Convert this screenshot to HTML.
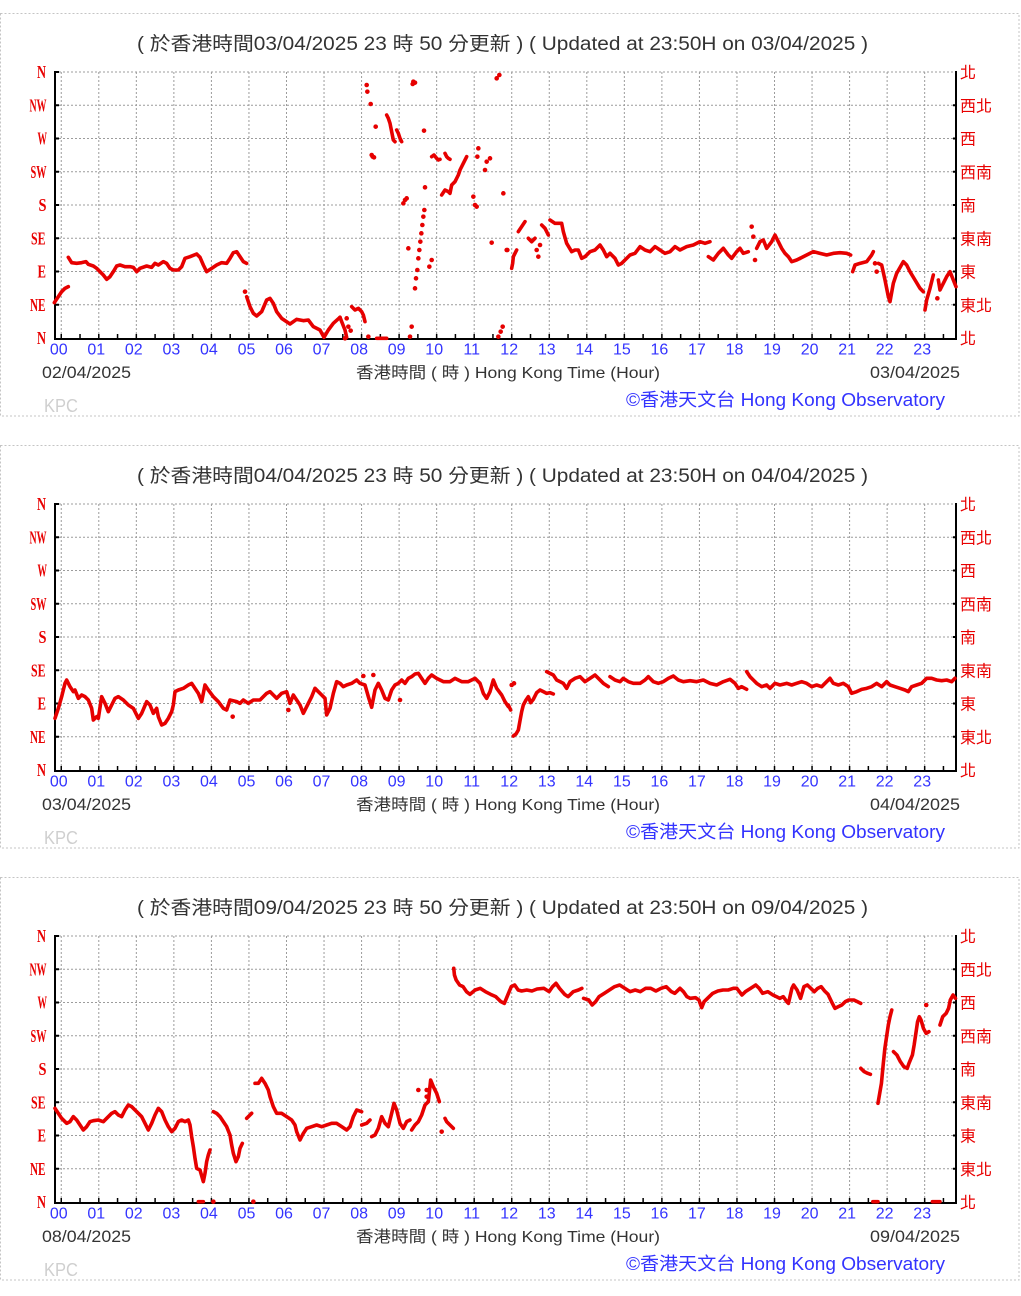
<!DOCTYPE html>
<html><head><meta charset="utf-8"><style>
body{margin:0;background:#fff}
svg{display:block}
.t{font-family:"Liberation Sans","Noto Sans CJK TC",sans-serif}
.lab{font-family:"Liberation Serif",serif;font-weight:bold;font-size:18px;fill:#e80000}
.rl{font-family:"Liberation Sans","Noto Sans CJK TC",sans-serif;font-size:16px;fill:#e80000}
.hr{font-family:"Liberation Sans",sans-serif;font-size:16px;fill:#3333ff;text-anchor:middle}
.s{fill:none;stroke:#e60000;stroke-width:3.6;stroke-linejoin:round;stroke-linecap:round;vector-effect:non-scaling-stroke}
.d{fill:none;stroke:#e60000;stroke-width:4.6;stroke-linecap:round;vector-effect:non-scaling-stroke}
</style></head><body>
<svg width="1021" height="1296" viewBox="0 0 1021 1296" xmlns="http://www.w3.org/2000/svg" xmlns:xlink="http://www.w3.org/1999/xlink">
<defs>
<g id="fr">
<rect x="0.5" y="13.5" width="1018.5" height="402.5" fill="none" stroke="#c4c4c4" stroke-dasharray="2 2"/>
<path fill="none" stroke="#9c9c9c" stroke-dasharray="2 2" d="M55 72H956M55 105.3H956M55 138.5H956M55 171.8H956M55 205H956M55 238.3H956M55 271.5H956M55 304.8H956"/>
<path fill="none" stroke="#9c9c9c" stroke-dasharray="2 2" d="M61.25 72V338M98.79 72V338M136.33 72V338M173.87 72V338M211.41 72V338M248.95 72V338M286.49 72V338M324.03 72V338M361.57 72V338M399.11 72V338M436.65 72V338M474.19 72V338M511.73 72V338M549.27 72V338M586.81 72V338M624.35 72V338M661.89 72V338M699.43 72V338M736.97 72V338M774.51 72V338M812.05 72V338M849.59 72V338M887.13 72V338M924.67 72V338"/>
<path fill="none" stroke="#000" stroke-width="2" d="M55 71V339H957M956 71V339"/>
<path fill="none" stroke="#000" stroke-width="2" d="M55 72h4M55 105.3h4M55 138.5h4M55 171.8h4M55 205h4M55 238.3h4M55 271.5h4M55 304.8h4M956 105.3h-3M956 138.5h-3M956 171.8h-3M956 205h-3M956 238.3h-3M956 271.5h-3M956 304.8h-3"/>
<path fill="none" stroke="#000" stroke-width="1.5" d="M61.25 338v-4M80.02 338v-4M98.79 338v-4M117.56 338v-4M136.33 338v-4M155.1 338v-4M173.87 338v-4M192.64 338v-4M211.41 338v-4M230.18 338v-4M248.95 338v-4M267.72 338v-4M286.49 338v-4M305.26 338v-4M324.03 338v-4M342.8 338v-4M361.57 338v-4M380.34 338v-4M399.11 338v-4M417.88 338v-4M436.65 338v-4M455.42 338v-4M474.19 338v-4M492.96 338v-4M511.73 338v-4M530.5 338v-4M549.27 338v-4M568.04 338v-4M586.81 338v-4M605.58 338v-4M624.35 338v-4M643.12 338v-4M661.89 338v-4M680.66 338v-4M699.43 338v-4M718.2 338v-4M736.97 338v-4M755.74 338v-4M774.51 338v-4M793.28 338v-4M812.05 338v-4M830.82 338v-4M849.59 338v-4M868.36 338v-4M887.13 338v-4M905.9 338v-4M924.67 338v-4M943.44 338v-4"/>
</g>
</defs>

<use xlink:href="#fr" href="#fr"/>
<use xlink:href="#fr" href="#fr" y="432"/>
<use xlink:href="#fr" href="#fr" y="864"/>

<!-- ================= PANEL 1 TEXT ================= -->
<g>
<text class="t" x="137" y="50" font-size="19" fill="#333" textLength="731" lengthAdjust="spacingAndGlyphs">( 於香港時間03/04/2025 23 時 50 分更新 ) ( Updated at 23:50H on 03/04/2025 )</text>
<text class="lab" x="37" y="78" textLength="9" lengthAdjust="spacingAndGlyphs">N</text>
<text class="lab" x="29.5" y="111.3" textLength="17" lengthAdjust="spacingAndGlyphs">NW</text>
<text class="lab" x="37.5" y="144.5" textLength="9.5" lengthAdjust="spacingAndGlyphs">W</text>
<text class="lab" x="30.5" y="177.8" textLength="16" lengthAdjust="spacingAndGlyphs">SW</text>
<text class="lab" x="38.5" y="211" textLength="8" lengthAdjust="spacingAndGlyphs">S</text>
<text class="lab" x="31" y="244.3" textLength="14.5" lengthAdjust="spacingAndGlyphs">SE</text>
<text class="lab" x="37.5" y="277.5" textLength="8.5" lengthAdjust="spacingAndGlyphs">E</text>
<text class="lab" x="30" y="310.8" textLength="15.5" lengthAdjust="spacingAndGlyphs">NE</text>
<text class="lab" x="37" y="344" textLength="9" lengthAdjust="spacingAndGlyphs">N</text>
<text class="rl" x="960" y="78">北</text>
<text class="rl" x="960" y="111.3">西北</text>
<text class="rl" x="960" y="144.5">西</text>
<text class="rl" x="960" y="177.8">西南</text>
<text class="rl" x="960" y="211">南</text>
<text class="rl" x="960" y="244.3">東南</text>
<text class="rl" x="960" y="277.5">東</text>
<text class="rl" x="960" y="310.8">東北</text>
<text class="rl" x="960" y="344">北</text>
<text class="hr" y="354.5"><tspan x="58.8">00</tspan><tspan x="96.3">01</tspan><tspan x="133.8">02</tspan><tspan x="171.4">03</tspan><tspan x="208.9">04</tspan><tspan x="246.5">05</tspan><tspan x="284">06</tspan><tspan x="321.5">07</tspan><tspan x="359.1">08</tspan><tspan x="396.6">09</tspan><tspan x="434.2">10</tspan><tspan x="471.7">11</tspan><tspan x="509.2">12</tspan><tspan x="546.8">13</tspan><tspan x="584.3">14</tspan><tspan x="621.9">15</tspan><tspan x="659.4">16</tspan><tspan x="696.9">17</tspan><tspan x="734.5">18</tspan><tspan x="772">19</tspan><tspan x="809.6">20</tspan><tspan x="847.1">21</tspan><tspan x="884.6">22</tspan><tspan x="922.2">23</tspan></text>
<text class="t" x="42" y="378" font-size="17" fill="#333" textLength="89" lengthAdjust="spacingAndGlyphs">02/04/2025</text>
<text class="t" x="356" y="378" font-size="16" fill="#333" textLength="304" lengthAdjust="spacingAndGlyphs">香港時間 ( 時 ) Hong Kong Time (Hour)</text>
<text class="t" x="870" y="378" font-size="17" fill="#333" textLength="90" lengthAdjust="spacingAndGlyphs">03/04/2025</text>
<text class="t" x="626" y="406" font-size="18" fill="#3333ff" textLength="319" lengthAdjust="spacingAndGlyphs">©香港天文台 Hong Kong Observatory</text>
<text class="t" x="44" y="412" font-size="18" fill="#cfcfcf" textLength="34" lengthAdjust="spacingAndGlyphs">KPC</text>
</g>

<!-- ================= PANEL 2 TEXT ================= -->
<g transform="translate(0 432)">
<text class="t" x="137" y="50" font-size="19" fill="#333" textLength="731" lengthAdjust="spacingAndGlyphs">( 於香港時間04/04/2025 23 時 50 分更新 ) ( Updated at 23:50H on 04/04/2025 )</text>
<text class="lab" x="37" y="78" textLength="9" lengthAdjust="spacingAndGlyphs">N</text>
<text class="lab" x="29.5" y="111.3" textLength="17" lengthAdjust="spacingAndGlyphs">NW</text>
<text class="lab" x="37.5" y="144.5" textLength="9.5" lengthAdjust="spacingAndGlyphs">W</text>
<text class="lab" x="30.5" y="177.8" textLength="16" lengthAdjust="spacingAndGlyphs">SW</text>
<text class="lab" x="38.5" y="211" textLength="8" lengthAdjust="spacingAndGlyphs">S</text>
<text class="lab" x="31" y="244.3" textLength="14.5" lengthAdjust="spacingAndGlyphs">SE</text>
<text class="lab" x="37.5" y="277.5" textLength="8.5" lengthAdjust="spacingAndGlyphs">E</text>
<text class="lab" x="30" y="310.8" textLength="15.5" lengthAdjust="spacingAndGlyphs">NE</text>
<text class="lab" x="37" y="344" textLength="9" lengthAdjust="spacingAndGlyphs">N</text>
<text class="rl" x="960" y="78">北</text>
<text class="rl" x="960" y="111.3">西北</text>
<text class="rl" x="960" y="144.5">西</text>
<text class="rl" x="960" y="177.8">西南</text>
<text class="rl" x="960" y="211">南</text>
<text class="rl" x="960" y="244.3">東南</text>
<text class="rl" x="960" y="277.5">東</text>
<text class="rl" x="960" y="310.8">東北</text>
<text class="rl" x="960" y="344">北</text>
<text class="hr" y="354.5"><tspan x="58.8">00</tspan><tspan x="96.3">01</tspan><tspan x="133.8">02</tspan><tspan x="171.4">03</tspan><tspan x="208.9">04</tspan><tspan x="246.5">05</tspan><tspan x="284">06</tspan><tspan x="321.5">07</tspan><tspan x="359.1">08</tspan><tspan x="396.6">09</tspan><tspan x="434.2">10</tspan><tspan x="471.7">11</tspan><tspan x="509.2">12</tspan><tspan x="546.8">13</tspan><tspan x="584.3">14</tspan><tspan x="621.9">15</tspan><tspan x="659.4">16</tspan><tspan x="696.9">17</tspan><tspan x="734.5">18</tspan><tspan x="772">19</tspan><tspan x="809.6">20</tspan><tspan x="847.1">21</tspan><tspan x="884.6">22</tspan><tspan x="922.2">23</tspan></text>
<text class="t" x="42" y="378" font-size="17" fill="#333" textLength="89" lengthAdjust="spacingAndGlyphs">03/04/2025</text>
<text class="t" x="356" y="378" font-size="16" fill="#333" textLength="304" lengthAdjust="spacingAndGlyphs">香港時間 ( 時 ) Hong Kong Time (Hour)</text>
<text class="t" x="870" y="378" font-size="17" fill="#333" textLength="90" lengthAdjust="spacingAndGlyphs">04/04/2025</text>
<text class="t" x="626" y="406" font-size="18" fill="#3333ff" textLength="319" lengthAdjust="spacingAndGlyphs">©香港天文台 Hong Kong Observatory</text>
<text class="t" x="44" y="412" font-size="18" fill="#cfcfcf" textLength="34" lengthAdjust="spacingAndGlyphs">KPC</text>
</g>

<!-- ================= PANEL 3 TEXT ================= -->
<g transform="translate(0 864)">
<text class="t" x="137" y="50" font-size="19" fill="#333" textLength="731" lengthAdjust="spacingAndGlyphs">( 於香港時間09/04/2025 23 時 50 分更新 ) ( Updated at 23:50H on 09/04/2025 )</text>
<text class="lab" x="37" y="78" textLength="9" lengthAdjust="spacingAndGlyphs">N</text>
<text class="lab" x="29.5" y="111.3" textLength="17" lengthAdjust="spacingAndGlyphs">NW</text>
<text class="lab" x="37.5" y="144.5" textLength="9.5" lengthAdjust="spacingAndGlyphs">W</text>
<text class="lab" x="30.5" y="177.8" textLength="16" lengthAdjust="spacingAndGlyphs">SW</text>
<text class="lab" x="38.5" y="211" textLength="8" lengthAdjust="spacingAndGlyphs">S</text>
<text class="lab" x="31" y="244.3" textLength="14.5" lengthAdjust="spacingAndGlyphs">SE</text>
<text class="lab" x="37.5" y="277.5" textLength="8.5" lengthAdjust="spacingAndGlyphs">E</text>
<text class="lab" x="30" y="310.8" textLength="15.5" lengthAdjust="spacingAndGlyphs">NE</text>
<text class="lab" x="37" y="344" textLength="9" lengthAdjust="spacingAndGlyphs">N</text>
<text class="rl" x="960" y="78">北</text>
<text class="rl" x="960" y="111.3">西北</text>
<text class="rl" x="960" y="144.5">西</text>
<text class="rl" x="960" y="177.8">西南</text>
<text class="rl" x="960" y="211">南</text>
<text class="rl" x="960" y="244.3">東南</text>
<text class="rl" x="960" y="277.5">東</text>
<text class="rl" x="960" y="310.8">東北</text>
<text class="rl" x="960" y="344">北</text>
<text class="hr" y="354.5"><tspan x="58.8">00</tspan><tspan x="96.3">01</tspan><tspan x="133.8">02</tspan><tspan x="171.4">03</tspan><tspan x="208.9">04</tspan><tspan x="246.5">05</tspan><tspan x="284">06</tspan><tspan x="321.5">07</tspan><tspan x="359.1">08</tspan><tspan x="396.6">09</tspan><tspan x="434.2">10</tspan><tspan x="471.7">11</tspan><tspan x="509.2">12</tspan><tspan x="546.8">13</tspan><tspan x="584.3">14</tspan><tspan x="621.9">15</tspan><tspan x="659.4">16</tspan><tspan x="696.9">17</tspan><tspan x="734.5">18</tspan><tspan x="772">19</tspan><tspan x="809.6">20</tspan><tspan x="847.1">21</tspan><tspan x="884.6">22</tspan><tspan x="922.2">23</tspan></text>
<text class="t" x="42" y="378" font-size="17" fill="#333" textLength="89" lengthAdjust="spacingAndGlyphs">08/04/2025</text>
<text class="t" x="356" y="378" font-size="16" fill="#333" textLength="304" lengthAdjust="spacingAndGlyphs">香港時間 ( 時 ) Hong Kong Time (Hour)</text>
<text class="t" x="870" y="378" font-size="17" fill="#333" textLength="90" lengthAdjust="spacingAndGlyphs">09/04/2025</text>
<text class="t" x="626" y="406" font-size="18" fill="#3333ff" textLength="319" lengthAdjust="spacingAndGlyphs">©香港天文台 Hong Kong Observatory</text>
<text class="t" x="44" y="412" font-size="18" fill="#cfcfcf" textLength="34" lengthAdjust="spacingAndGlyphs">KPC</text>
</g>

<!-- ================= PANEL 1 DATA ================= -->
<g transform="translate(0 230) scale(0.33333)">
<path class="s" d="M163 218L175 200L185 185L195 175L205 170"/>
<path class="s" d="M205 82L215 98L230 100L245 98L258 95L265 103L280 108L290 115L300 125L310 135L320 148L330 140L340 125L350 108L360 105L375 110L390 110L400 112L410 125L420 115L440 108L455 112L465 100L475 105L490 95L500 100L510 115L520 120L535 120L545 110L555 85L570 80L590 72L600 82L610 105L620 125L635 115L650 105L665 98L680 100L690 85L700 68L710 65L720 80L730 95L740 100"/>
<path class="d" d="M735 185h.1"/>
<path class="s" d="M740 200L750 230L760 250L770 258L785 245L800 210L810 205L820 220L830 245L845 265L870 282L890 268L910 272L925 270L940 290L960 300L972 322L985 300L1000 280L1020 262"/>
</g>
<g transform="translate(230 60) scale(0.33333)">
<path class="s" d="M330 772L335 785L345 810L350 832"/>
<path class="d" d="M350 775h.1M355 800h.1M362 812h.1M345 835h.1"/>
<path class="s" d="M365 740L375 750L385 745L395 755L400 765L405 785"/>
<path class="d" d="M415 830h.1M410 75h.1M412 95h.1M422 132h.1M437 200h.1M428 290h.1M432 292h.1M425 285h.1"/>
<path class="s" d="M440 835L470 835"/>
<path class="s" d="M470 165L475 175L480 190L485 215L490 240L495 245"/>
<path class="s" d="M500 210L505 220L510 235L515 245"/>
<path class="d" d="M550 65h.1M555 68h.1M548 72h.1M520 430h.1M525 420h.1M530 415h.1M540 830h.1M545 800h.1M535 565h.1"/>
<path class="d" d="M555 685h.1M558 655h.1M562 630h.1M565 595h.1M568 570h.1M571 545h.1M574 520h.1M577 495h.1M580 470h.1M583 450h.1"/>
<path class="d" d="M585 382h.1M582 212h.1M598 620h.1M605 600h.1"/>
<path class="s" d="M605 290L612 285L620 295L625 300L630 298"/>
<path class="s" d="M645 280L650 290L655 295L660 298"/>
<path class="s" d="M635 405L645 390L655 395L660 400L665 375L675 365L685 345L690 330L700 310L710 290"/>
<path class="d" d="M730 410h.1M735 435h.1M740 440h.1M745 265h.1M742 290h.1M765 330h.1M770 305h.1M780 295h.1M785 548h.1M800 55h.1M808 45h.1M820 400h.1M805 830h.1M812 815h.1M818 800h.1M832 570h.1"/>
</g>
<g transform="translate(500 200) scale(0.33333)">
<path class="d" d="M20 150h.1"/>
<path class="s" d="M35 205L38 190L40 170L45 160L50 150"/>
<path class="s" d="M55 95L65 80L75 65"/>
<path class="s" d="M85 115L95 125L105 115"/>
<path class="d" d="M110 150h.1M115 170h.1M120 135h.1"/>
<path class="s" d="M125 75L135 85L145 105"/>
<path class="s" d="M150 60L165 70L185 70L190 95L200 130L215 155L225 150L235 150L245 175L255 170L270 155L285 150L300 135L310 150L320 170L330 160L345 175L355 195L365 190L375 180L390 165L405 160L420 140L435 150L450 155L465 140L480 150L495 160L510 155L525 140L540 150L560 140L580 135L600 125L615 130L630 125"/>
<path class="s" d="M625 170L640 180L655 160L670 145L685 165L695 175L710 155L720 145L730 160L745 155"/>
<path class="d" d="M755 80h.1M760 110h.1M765 180h.1"/>
<path class="s" d="M770 145L780 125L790 120L800 145L815 125L825 105L835 125L845 145L855 160L865 170L875 185L890 180L900 175"/>
</g>
<g transform="translate(680 230) scale(0.33333)">
<path class="s" d="M360 85L380 75L400 65L420 70L440 75L460 70L480 68L500 70L512 75"/>
<path class="s" d="M518 125L525 105L540 100L560 95L575 75L580 65"/>
<path class="d" d="M585 100h.1M590 125h.1"/>
<path class="s" d="M595 100L605 105L615 150L625 200L630 215L640 160L650 130L670 95L680 105L690 125L705 150L720 175L730 185"/>
<path class="s" d="M735 240L740 210L750 175L760 135"/>
<path class="d" d="M772 205h.1"/>
<path class="s" d="M775 150L780 180L790 160L800 140L810 125L820 150L828 170"/>
</g>

<!-- ================= PANEL 2 DATA ================= -->
<g transform="translate(40 650) scale(0.33333)">
<path class="s" d="M45 205L55 175L65 140L75 100L80 90L90 110L100 125L105 120L115 145L125 135L135 140L145 150L155 175L160 210L170 200L175 205L185 140L195 160L205 185L215 165L225 145L235 140L250 150L265 165L280 175L295 205L305 190L320 155L330 165L340 190L350 175L355 200L365 225L375 220L385 205L395 185L400 165L405 125L415 120L430 115L445 105L455 100L465 115L475 130L485 155L495 105L505 120L520 140L535 155L550 175L560 180L570 150L590 155L600 160L610 150L625 160L640 150L660 150L680 130L690 125L700 135L710 145L725 130L740 125L750 160L760 135L770 150L780 165L790 190L800 170L815 140L825 115L835 125L845 135L855 145L860 195L870 175L880 130L890 95L900 100L910 110L920 105L935 100L950 90L960 100L975 105L985 140L995 172L1005 120L1015 100L1025 120L1035 145L1045 150L1055 120L1065 105L1075 100L1085 90L1095 100L1105 85L1115 80L1125 72L1135 70L1145 85L1155 100L1165 85L1175 75L1190 85L1210 95L1230 95L1245 85L1265 95L1285 95L1305 85L1320 100L1330 130L1340 145L1350 125L1360 90L1370 115L1385 135L1395 155L1405 170"/>
<path class="d" d="M970 78h.1M1000 75h.1M1080 150h.1M745 180h.1M578 200h.1"/>
</g>
<g transform="translate(490 650) scale(0.33333)">
<path class="s" d="M55 165L62 180"/>
<path class="d" d="M65 105h.1M72 100h.1"/>
<path class="s" d="M70 258L78 252L85 240L90 212L95 185L100 165L108 150L115 140L122 158L130 148L140 128L150 120L160 125L170 130L180 128L190 132"/>
<path class="s" d="M170 65L180 70L190 75L200 90L210 95L220 100L230 115L240 95L255 85L270 80L285 95L300 85L315 75L325 85L340 100L355 110"/>
<path class="s" d="M360 80L375 90L390 95L400 85L415 95L430 100L450 100L465 90L475 80L490 95L505 100L520 95L535 85L550 78L565 90L580 95L600 92L620 95L640 90L660 100L680 105L700 95L720 88L735 100L745 115L755 110L770 118"/>
<path class="s" d="M770 65L780 80L790 90L800 100L815 110L830 105L840 115L855 100L870 105L890 100L905 105L920 100L935 95L950 100L965 110L980 105L995 110L1005 100L1020 85L1030 100L1045 105L1060 100L1075 110L1085 130L1100 125L1115 118L1130 115L1145 110L1160 100L1175 110L1190 95L1200 105L1215 110L1230 115L1245 120L1255 125L1265 110L1280 105L1295 100L1310 85L1325 85L1340 90L1355 92L1370 90L1385 95L1395 85"/>
</g>

<!-- ================= PANEL 3 DATA ================= -->
<g transform="translate(40 1060) scale(0.33333)">
<path class="s" d="M45 145L55 160L65 175L80 190L90 185L100 170L110 180L120 195L130 210L140 200L150 185L160 182L175 180L190 185L200 175L215 160L225 155L235 165L245 170L255 150L265 135L275 140L285 150L295 160L305 170L315 190L325 210L335 190L345 165L355 145L365 155L375 180L385 200L395 215L405 205L415 185L425 180L435 185L445 180L450 195L455 230L460 260L465 295L470 325L480 330L490 365L495 340L500 305L505 285L510 270"/>
<path class="s" d="M520 155L530 160L540 170L550 185L560 200L570 225L575 255L580 280L588 305L595 290L600 265L607 250"/>
<path class="s" d="M620 175L630 165L635 160"/>
<path class="s" d="M645 70L655 70L665 55L675 70L685 90L690 110L700 140L710 160L725 160L740 170L755 180L765 195L770 215L780 240L790 220L800 205L815 200L830 195L845 200L860 195L875 190L890 190L905 200L920 210L930 200L940 170L950 150L965 155"/>
<path class="s" d="M965 195L980 190L990 180"/>
<path class="s" d="M995 230L1005 225L1015 205L1025 170L1035 190L1045 200L1055 160L1062 130L1070 150L1080 190L1090 205L1100 185L1110 180"/>
<path class="s" d="M1115 210L1125 195L1135 185L1145 165L1155 135L1165 125L1172 60L1180 80L1190 100L1198 125"/>
<path class="d" d="M1205 215h.1M1135 90h.1M1160 90h.1M1160 110h.1M520 425h.1M640 425h.1"/>
<path class="s" d="M1215 175L1220 185L1230 195L1240 205"/>
<path class="s" d="M475 425L490 425"/>
</g>
<g transform="translate(420 955) scale(0.34435 0.33333)">
<path class="s" d="M98 40L100 60L105 75L115 90L125 95L135 110L145 118L160 105L175 100L190 110L205 118L220 125L235 140L245 145L255 120L265 95L275 90L285 105L295 108L310 105L325 108L340 102L360 100L375 110L385 95L395 85L405 100L420 118L430 125L445 110L460 105L470 100"/>
<path class="s" d="M475 130L490 135L500 150L510 140L520 125L535 115L550 105L565 95L580 90L595 100L610 110L625 105L640 110L655 100L670 100L685 108L700 100L715 95L730 110L740 115L755 100L765 110L775 125L785 130L800 128L810 135L818 158L825 140L835 130L850 115L865 108L880 105L895 105L910 100L920 100L935 120L945 110L960 100L975 90L985 100L995 115L1010 110L1025 120L1035 125L1045 130L1055 125L1065 140L1070 145L1080 100L1085 90L1095 105L1105 130L1115 95L1125 90L1135 100L1145 110L1155 100L1165 95L1175 108L1185 118L1195 140L1205 160L1215 155L1225 150L1235 140L1245 135L1260 135L1270 140L1280 145"/>
<path class="s" d="M1280 340L1290 350L1300 355L1308 358"/>
<path class="s" d="M1330 445L1335 415L1340 385L1345 330L1350 280L1355 245L1360 210L1365 185L1370 165"/>
<path class="s" d="M1375 290L1385 300L1395 320L1405 335L1415 340L1420 325L1430 300L1435 270L1440 235L1445 200L1450 185L1455 195L1462 220L1470 235L1478 230"/>
<path class="d" d="M1470 150h.1"/>
<path class="s" d="M1510 210L1518 185L1528 175L1535 160L1540 135L1548 120L1555 130"/>
<path class="s" d="M1315 740L1330 740M1488 740L1510 740"/>
</g>
</svg>
</body></html>
